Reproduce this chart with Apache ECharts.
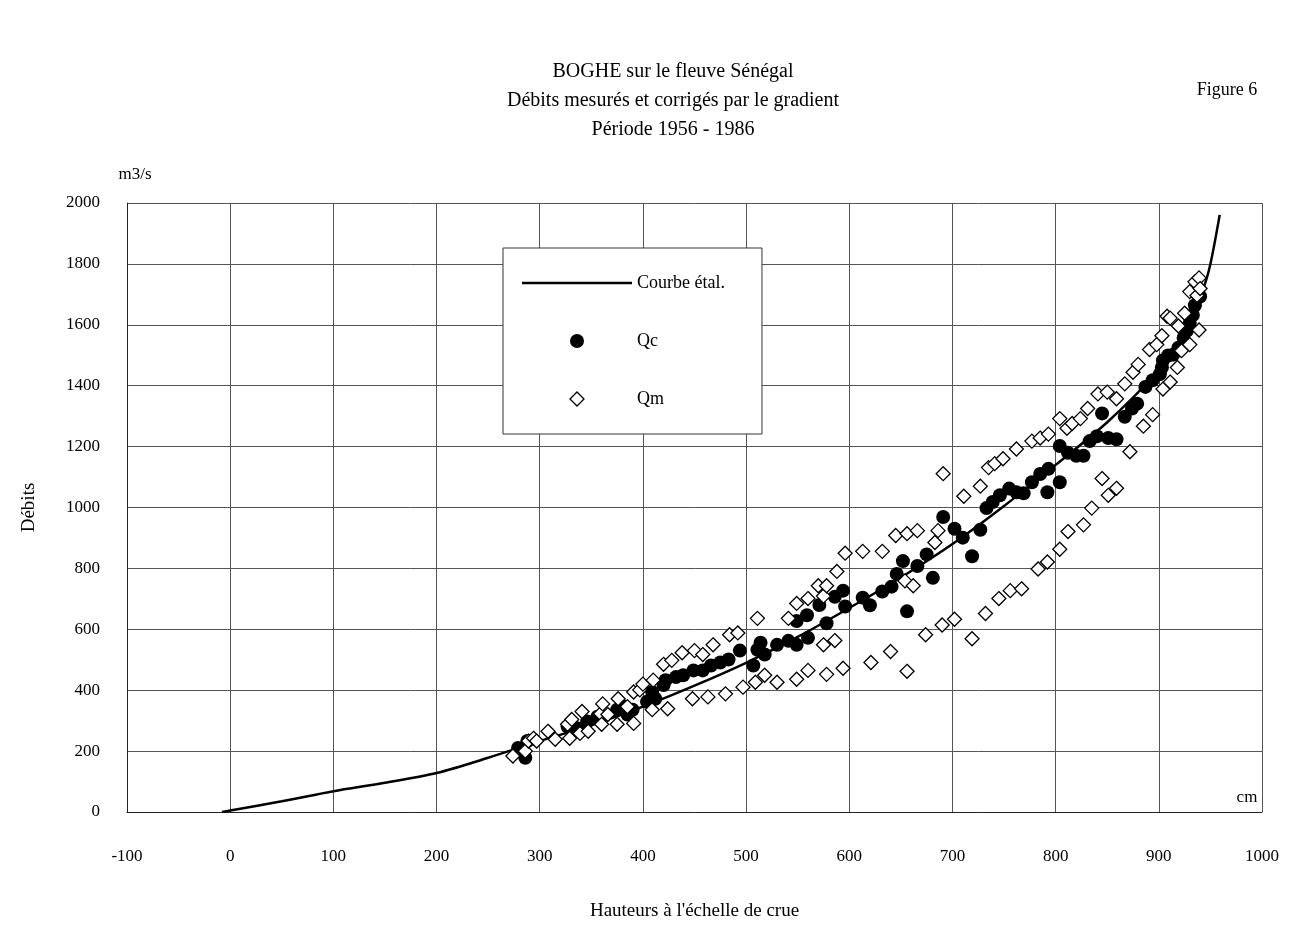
<!DOCTYPE html>
<html>
<head>
<meta charset="utf-8">
<script src="https://cdn.jsdelivr.net/npm/echarts@6/dist/echarts.min.js"></script>
<style>
  html, body { margin: 0; padding: 0; background: #fff; }
  #chart { width: 1300px; height: 926px; }
</style>
</head>
<body>
<div id="chart"></div>
<script>
// Courbe d'étalonnage (hauteur cm -> débit m3/s)
const curveH = [-8, 0, 50, 100, 150, 200, 250, 300, 350, 400, 450, 500, 550, 600, 650, 700, 750, 800, 850, 900, 920, 943, 950, 959];
const curveQ = [0, 5, 35, 68, 96, 128, 178, 233, 285, 346, 415, 490, 575, 670, 770, 880, 1005, 1140, 1280, 1450, 1540, 1719, 1800, 1961];

// Qc : débits corrigés par le gradient
const qc = [
  [279, 210], [286, 178], [288, 233],
  [327, 281], [336, 275], [346, 297], [356, 313], [375, 336], [383, 346], [385, 320], [390, 336],
  [404, 362], [409, 394], [412, 372], [420, 417], [422, 433], [432, 443], [439, 449], [449, 465],
  [458, 465], [466, 481], [475, 491], [483, 501], [494, 530], [507, 481], [511, 533], [514, 556], [518, 517],
  [530, 549], [541, 562], [549, 549], [549, 627], [559, 646], [560, 572], [571, 680], [578, 620],
  [586, 707], [594, 727], [596, 675], [613, 704], [620, 679], [632, 724], [641, 740], [646, 782],
  [652, 824], [656, 659], [666, 808], [675, 846], [681, 769], [691, 969], [702, 930], [710, 901],
  [719, 840], [727, 927], [733, 998], [739, 1018], [746, 1040], [755, 1062], [762, 1050], [769, 1047],
  [777, 1083], [785, 1110], [792, 1050], [793, 1127], [804, 1083], [804, 1202], [812, 1180], [820, 1170],
  [827, 1170], [833, 1218], [840, 1234], [845, 1309], [851, 1228], [859, 1224],
  [867, 1298], [874, 1325], [879, 1341], [887, 1396], [894, 1418], [901, 1438], [903, 1460], [904, 1483],
  [909, 1499], [914, 1502], [919, 1525], [924, 1557], [927, 1580], [930, 1606], [933, 1632], [935, 1664], [940, 1693]
];

// Qm : débits mesurés
const qm = [
  [274, 184], [286, 200], [289, 233], [294, 242], [297, 233], [308, 265], [315, 239], [327, 288], [329, 242],
  [331, 304], [339, 258], [341, 330], [347, 265], [359, 323], [360, 288], [361, 355], [366, 320], [375, 288],
  [376, 372], [385, 346], [391, 291], [391, 394], [397, 401], [400, 420], [409, 336], [410, 433], [420, 485],
  [424, 339], [428, 498], [438, 523], [448, 372], [450, 530], [458, 517], [463, 378], [468, 549], [480, 388],
  [484, 582], [492, 588], [497, 410], [509, 426], [511, 636], [518, 449], [530, 426], [541, 636], [549, 436],
  [549, 685], [560, 465], [560, 701], [570, 743], [575, 549], [575, 709], [578, 452], [578, 743], [586, 563],
  [588, 790], [594, 472], [596, 850], [613, 856], [621, 491], [632, 856], [640, 527], [645, 908], [654, 759],
  [656, 462], [656, 914], [662, 743], [666, 924], [674, 582], [683, 885], [686, 924], [690, 614], [691, 1111],
  [702, 633], [711, 1037], [719, 569], [727, 1070], [732, 652], [735, 1131], [741, 1144], [745, 701],
  [749, 1160], [756, 727], [762, 1192], [767, 733], [777, 1218], [783, 798], [785, 1228], [792, 821],
  [793, 1241], [804, 863], [804, 1292], [811, 1260], [812, 921], [816, 1276], [824, 1292], [827, 943],
  [831, 1325], [835, 998], [841, 1373], [845, 1095], [850, 1379], [851, 1040], [859, 1063], [859, 1357],
  [867, 1406], [872, 1183], [875, 1444], [880, 1470], [885, 1267], [891, 1519], [894, 1305], [898, 1535],
  [903, 1564], [904, 1389], [908, 1628], [911, 1412], [911, 1622], [918, 1460], [919, 1596], [922, 1515],
  [925, 1638], [930, 1535], [930, 1709], [935, 1741], [937, 1696], [939, 1754], [939, 1583], [940, 1719]
];

const xTicks = { min: -100, max: 1000, step: 100 };
const yTicks = { min: 0, max: 2000, step: 200 };

const serif = "'Liberation Serif', 'DejaVu Serif', serif";
const plain = (v) => String(v);

const chart = echarts.init(document.getElementById("chart"));

const option = {
  backgroundColor: "#fff",
  animation: false,
  textStyle: { fontFamily: serif, color: "#000" },
  title: [
    {
      text: "BOGHE sur le fleuve Sénégal\nDébits mesurés et corrigés par le gradient\nPériode 1956 - 1986",
      left: 668,
      top: 52,
      textAlign: "center",
      textStyle: { fontFamily: serif, fontSize: 20, fontWeight: "normal", lineHeight: 29, color: "#000" }
    },
    {
      text: "Figure 6",
      left: 1222,
      top: 76,
      textAlign: "center",
      textStyle: { fontFamily: serif, fontSize: 18, fontWeight: "normal", color: "#000" }
    },
    {
      text: "m3/s",
      left: 130,
      top: 161,
      textAlign: "center",
      textStyle: { fontFamily: serif, fontSize: 17, fontWeight: "normal", color: "#000" }
    },
    {
      text: "cm",
      left: 1242,
      top: 784,
      textAlign: "center",
      textStyle: { fontFamily: serif, fontSize: 17, fontWeight: "normal", color: "#000" }
    }
  ],
  grid: { left: 127, right: 38, top: 203, bottom: 104 },
  legend: {
    orient: "vertical",
    left: 503,
    top: 248,
    padding: [26, 37, 26, 19],
    itemWidth: 110,
    itemHeight: 14,
    itemGap: 40,
    symbolKeepAspect: true,
    backgroundColor: "#fff",
    borderColor: "#333",
    borderWidth: 1,
    textStyle: { fontFamily: serif, fontSize: 18, color: "#000", padding: [6, 0, 0, 0] },
    data: [
      { name: "Courbe étal.", icon: "path://M0,0L110,0L110,2.5L0,2.5Z" },
      { name: "Qc", icon: "circle" },
      {
        name: "Qm",
        icon: "path://M7,0L14,7L7,14L0,7Z",
        itemStyle: { color: "#fff", borderColor: "#000", borderWidth: 1.3 }
      }
    ]
  },
  xAxis: {
    type: "value",
    min: xTicks.min,
    max: xTicks.max,
    interval: xTicks.step,
    name: "Hauteurs à l'échelle de crue",
    nameLocation: "middle",
    nameGap: 90,
    nameTextStyle: { fontFamily: serif, fontSize: 19, color: "#000" },
    axisLine: { show: true, lineStyle: { color: "#222", width: 1 } },
    axisTick: { show: false },
    axisLabel: { fontFamily: serif, fontSize: 17, color: "#000", margin: 36, formatter: plain },
    splitLine: { show: true, lineStyle: { color: "#555", width: 1 } }
  },
  yAxis: {
    type: "value",
    min: yTicks.min,
    max: yTicks.max,
    interval: yTicks.step,
    name: "Débits",
    nameLocation: "middle",
    nameGap: 88,
    nameRotate: 90,
    nameTextStyle: { fontFamily: serif, fontSize: 19, color: "#000" },
    axisLine: { show: true, onZero: false, lineStyle: { color: "#222", width: 1 } },
    axisTick: { show: false },
    axisLabel: { fontFamily: serif, fontSize: 17, color: "#000", margin: 27, formatter: plain },
    splitLine: { show: true, lineStyle: { color: "#555", width: 1 } }
  },
  series: [
    {
      name: "Courbe étal.",
      type: "line",
      data: curveH.map((h, i) => [h, curveQ[i]]),
      smooth: 0.3,
      showSymbol: false,
      symbol: "none",
      lineStyle: { color: "#000", width: 2.5 },
      itemStyle: { color: "#000" },
      z: 2
    },
    {
      name: "Qc",
      type: "scatter",
      data: qc,
      symbol: "circle",
      symbolSize: 14,
      itemStyle: { color: "#000", borderWidth: 0, opacity: 1 },
      z: 3
    },
    {
      name: "Qm",
      type: "scatter",
      data: qm,
      symbol: "diamond",
      symbolSize: 14,
      itemStyle: { color: "#fff", borderColor: "#000", borderWidth: 1.3, opacity: 1 },
      z: 4
    }
  ]
};

chart.setOption(option);
window.addEventListener("resize", () => chart.resize());
</script>
</body>
</html>
